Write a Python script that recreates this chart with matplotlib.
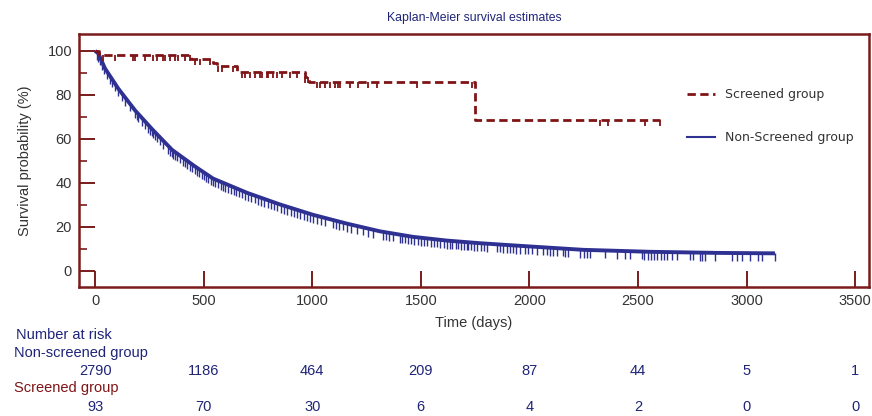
import numpy as np
import matplotlib
matplotlib.use("Agg")
import matplotlib.pyplot as plt
from matplotlib.lines import Line2D

# ---------------- data ----------------
title = "Kaplan-Meier survival estimates"
xlabel = "Time (days)"
ylabel = "Survival probability (%)"

# Non-screened group: survival curve
ns_time = [0, 14, 46, 106, 184, 262, 355, 460, 543, 700, 852, 1004, 1160, 1312,
           1464, 1620, 1773, 1943, 2247, 2555, 2864, 3131]
ns_surv = [100, 99, 92, 83, 73, 64.5, 55, 47.5, 42, 35.5, 30.2, 25.5, 21.5, 18,
           15.5, 13.8, 12.6, 11.5, 9.6, 8.7, 8.2, 8.0]
ns_censor = [8, 15, 23, 32, 41, 55, 69, 78, 90, 105, 124, 140, 160, 184, 193, 198,
             215, 230, 244, 252, 260, 268, 277, 285, 300, 315, 336, 345, 352, 360,
             368, 377, 390, 405, 414, 425, 436, 447, 460, 470, 480, 492, 502, 512,
             522, 532, 542, 552, 565, 578, 589, 600, 612, 625, 638, 650, 662, 675,
             690, 705, 720, 735, 750, 765, 780, 795, 810, 825, 840, 855, 870, 885,
             900, 915, 930, 945, 960, 975, 990, 1004, 1020, 1040, 1060, 1096, 1110,
             1125, 1140, 1160, 1180, 1206, 1234, 1258, 1280, 1326, 1340, 1355, 1372,
             1404, 1415, 1425, 1440, 1455, 1470, 1485, 1500, 1515, 1530, 1545, 1560,
             1575, 1590, 1605, 1620, 1634, 1645, 1660, 1672, 1685, 1700, 1713, 1718,
             1730, 1745, 1760, 1775, 1790, 1805, 1851, 1865, 1880, 1895, 1910, 1925,
             1940, 1957, 1980, 1995, 2010, 2035, 2063, 2080, 2095, 2110, 2127, 2155,
             2165, 2178, 2233, 2250, 2265, 2279, 2348, 2403, 2440, 2463, 2518, 2530,
             2545, 2560, 2575, 2590, 2605, 2620, 2635, 2656, 2680, 2739, 2753, 2785,
             2795, 2808, 2854, 2932, 2955, 2978, 3015, 3052, 3070, 3130]

# Screened group: step curve
sc_time = [0, 20, 440, 545, 560, 655, 965, 985, 1750, 2601]
sc_surv = [100, 98.2, 96.3, 94.5, 93, 90.5, 88, 85.7, 68.6, 68.6]
sc_censor = [37, 92, 175, 184, 230, 267, 285, 313, 322, 345, 368, 382, 414, 437,
             460, 483, 529, 566, 584, 635, 677, 691, 714, 737, 760, 769, 792, 797,
             820, 838, 861, 898, 930, 967, 981, 1022, 1036, 1059, 1082, 1105, 1119,
             1128, 1174, 1211, 1257, 1298, 1483, 1736, 2325, 2362, 2532, 2601]

risk_times = [0, 500, 1000, 1500, 2000, 2500, 3000, 3500]
risk_ns = [2790, 1186, 464, 209, 87, 44, 5, 1]
risk_sc = [93, 70, 30, 6, 4, 2, 0, 0]

# ---------------- style ----------------
BLUE = "#2E3192"
RED = "#7F1416"
SPINE = "#7A1C1C"
NAVY = "#1F2478"
GRAY = "#333333"

plt.rcParams['font.family'] = ['Liberation Sans', 'DejaVu Sans']

fig = plt.figure(figsize=(8.72, 4.16), dpi=100)
ax = fig.add_axes([79/872, 1-287/416, (869-79)/872, (287-34)/416])

# non-screened
ax.plot(ns_time, ns_surv, color=BLUE, lw=2.8, solid_joinstyle='round',
        solid_capstyle='butt', zorder=3)
ns_c_y = np.interp(ns_censor, ns_time, ns_surv)
ax.vlines(ns_censor, ns_c_y - 3.6, ns_c_y, color=BLUE, lw=1.0, zorder=3)

# screened
ax.step(sc_time, sc_surv, where='post', color=RED, lw=2.0, dashes=(3, 1.6), zorder=4)
sc_c_y = np.array([sc_surv[np.searchsorted(sc_time, t, side='right') - 1]
                   for t in sc_censor])
ax.vlines(sc_censor, sc_c_y - 2.6, sc_c_y, color=RED, lw=1.3, zorder=4)

ax.set_xlim(-74, 3564)
ax.set_ylim(-7.3, 107.7)
ax.set_xticks(risk_times)
ax.set_yticks([0, 20, 40, 60, 80, 100])
ax.set_yticks([10, 30, 50, 70, 90], minor=True)
ax.tick_params(axis='both', which='major', direction='in', length=11.5, width=1.4,
               color=SPINE, labelsize=10.5, labelcolor=GRAY, pad=5)
ax.tick_params(axis='y', which='minor', direction='in', length=6, width=1.2, color=SPINE)
for s in ax.spines.values():
    s.set_color(SPINE)
    s.set_linewidth(1.8)

ax.set_title(title, color=NAVY, fontsize=8.8, pad=9)
ax.set_xlabel(xlabel, color=GRAY, fontsize=10.5, labelpad=6)
ax.set_ylabel(ylabel, color=GRAY, fontsize=10.5, labelpad=11)

handles = [Line2D([], [], color=RED, lw=2.0, dashes=(3, 1.6)),
           Line2D([], [], color=BLUE, lw=1.5)]
leg = ax.legend(handles, ["Screened group", "Non-Screened group"],
                loc='upper left', bbox_to_anchor=(0.755, 0.83), frameon=False,
                prop={'family': 'DejaVu Sans', 'size': 9}, labelspacing=2.4,
                handlelength=2.3, handletextpad=0.8)
for t in leg.get_texts():
    t.set_color(GRAY)

# risk table
fig.text(16/872, 1-335/416, "Number at risk", color=NAVY, fontsize=10.5, va='center')
fig.text(14/872, 1-353/416, "Non-screened group", color=NAVY, fontsize=10.5, va='center')
fig.text(14/872, 1-388/416, "Screened group", color=RED, fontsize=10.5, va='center')
for t, n1, n2 in zip(risk_times, risk_ns, risk_sc):
    xf = fig.transFigure.inverted().transform(ax.transData.transform((t, 0)))[0]
    fig.text(xf, 1-371/416, str(n1), color=NAVY, fontsize=10.5, ha='center', va='center')
    fig.text(xf, 1-407/416, str(n2), color=NAVY, fontsize=10.5, ha='center', va='center')

fig.savefig("out.png", dpi=100)
